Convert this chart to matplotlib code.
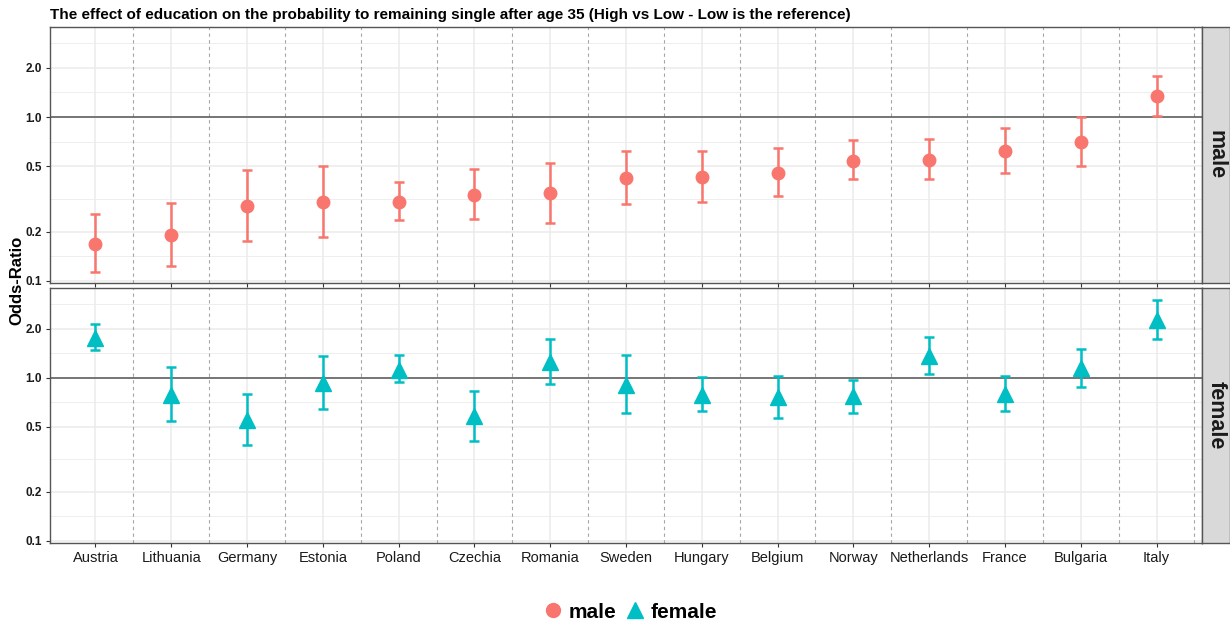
import matplotlib
matplotlib.use("Agg")
import matplotlib.pyplot as plt
from matplotlib.lines import Line2D
import numpy as np

plt.rcParams['font.family'] = ['Liberation Sans', 'DejaVu Sans']

countries = ["Austria", "Lithuania", "Germany", "Estonia", "Poland", "Czechia", "Romania",
             "Sweden", "Hungary", "Belgium", "Norway", "Netherlands", "France", "Bulgaria", "Italy"]

male_or = [0.169, 0.191, 0.285, 0.302, 0.305, 0.336, 0.344, 0.423, 0.433, 0.456, 0.543, 0.548, 0.625, 0.703, 1.34]
male_lo = [0.114, 0.124, 0.174, 0.184, 0.236, 0.237, 0.227, 0.293, 0.303, 0.328, 0.416, 0.416, 0.458, 0.501, 1.01]
male_hi = [0.256, 0.300, 0.478, 0.501, 0.404, 0.480, 0.528, 0.617, 0.622, 0.646, 0.723, 0.733, 0.861, 1.00, 1.78]

female_or = [1.76, 0.787, 0.549, 0.923, 1.12, 0.579, 1.25, 0.906, 0.787, 0.757, 0.768, 1.35, 0.794, 1.15, 2.27]
female_lo = [1.47, 0.540, 0.388, 0.642, 0.94, 0.409, 0.918, 0.607, 0.621, 0.565, 0.612, 1.06, 0.627, 0.875, 1.74]
female_hi = [2.13, 1.17, 0.797, 1.36, 1.38, 0.824, 1.73, 1.38, 1.01, 1.02, 0.967, 1.77, 1.02, 1.51, 3.01]

y_breaks = [0.1, 0.2, 0.5, 1.0, 2.0]
y_labels = ["0.1", "0.2", "0.5", "1.0", "2.0"]
y_minor = [0.1414, 0.3162, 0.7071, 1.4142, 2.8284]

title = "The effect of education on the probability to remaining single after age 35 (High vs Low - Low is the reference)"

W, H = 1230, 622
fig = plt.figure(figsize=(W / 100, H / 100), dpi=100)

def px(x0, y0, x1, y1):
    return [x0 / W, 1 - y1 / H, (x1 - x0) / W, (y1 - y0) / H]

male_col = "#F8766D"
female_col = "#00BFC4"
x = np.arange(1, len(countries) + 1)

panels = [
    ("male", male_or, male_lo, male_hi, male_col, "o", 9, (27, 283)),
    ("female", female_or, female_lo, female_hi, female_col, "^", 11, (288, 543)),
]

for i, (lab, v, lo, hi, col, mk, ms, (t, b)) in enumerate(panels):
    ax = fig.add_axes(px(50, t, 1202, b))
    ax.set_yscale("log")
    ax.set_ylim(0.097, 3.55)
    ax.set_xlim(0.4, 15.6)
    # grid
    for yy in y_minor:
        ax.axhline(yy, color="#EBEBEB", lw=0.6, zorder=0)
    for yy in y_breaks:
        ax.axhline(yy, color="#EBEBEB", lw=1.1, zorder=0)
    for xx in x:
        ax.axvline(xx, color="#EBEBEB", lw=1.1, zorder=0)
    for xx in np.arange(1.5, 16, 1.0):
        ax.axvline(xx, color="#A6A6A6", lw=0.8, ls=(0, (3, 3)), zorder=1)
    ax.axhline(1.0, color="#555555", lw=1.1, zorder=2)
    v = np.array(v); lo = np.array(lo); hi = np.array(hi)
    ax.errorbar(x, v, yerr=[v - lo, hi - v], fmt="none", ecolor=col, elinewidth=1.8,
                capsize=3.6, capthick=1.8, zorder=3)
    ax.plot(x, v, ls="none", marker=mk, ms=ms, color=col, mec=col, zorder=4)
    ax.set_yticks(y_breaks)
    ax.set_yticklabels(y_labels, fontsize=8.5, fontweight="bold", color="#1A1A1A")
    ax.yaxis.set_minor_locator(matplotlib.ticker.NullLocator())
    ax.set_xticks(x)
    if i == 1:
        ax.set_xticklabels(countries, fontsize=10.5, color="#1A1A1A")
    else:
        ax.set_xticklabels([])
    ax.tick_params(axis="both", length=3, width=0.8, color="#333333", pad=3)
    for s in ax.spines.values():
        s.set_color("#555555")
        s.set_linewidth(1.0)
    # strip
    sax = fig.add_axes(px(1202, t, 1230, b))
    sax.set_facecolor("#D9D9D9")
    sax.set_xticks([]); sax.set_yticks([])
    for s in sax.spines.values():
        s.set_color("#555555")
        s.set_linewidth(1.0)
    sax.text(0.5, 0.5, lab, rotation=-90, ha="center", va="center", fontsize=15.5,
             fontweight="bold", color="#1A1A1A", transform=sax.transAxes)

fig.text(50 / W, 1 - 15 / H, title, fontsize=11, fontweight="bold", ha="left", va="center")
fig.text(17 / W, 1 - 280 / H, "Odds-Ratio", fontsize=12, fontweight="bold", rotation=90,
         ha="center", va="center")

handles = [Line2D([], [], ls="none", marker="o", ms=10, color=male_col, label="male"),
           Line2D([], [], ls="none", marker="^", ms=11, color=female_col, label="female")]
fig.legend(handles=handles, loc="center", bbox_to_anchor=(628 / W, 1 - 612 / H), ncol=2,
           frameon=False, prop={"size": 15, "weight": "bold"}, handletextpad=0.05,
           columnspacing=0.2, handlelength=1.4, borderpad=0.1)

fig.savefig("out.png", dpi=100, facecolor="white")
